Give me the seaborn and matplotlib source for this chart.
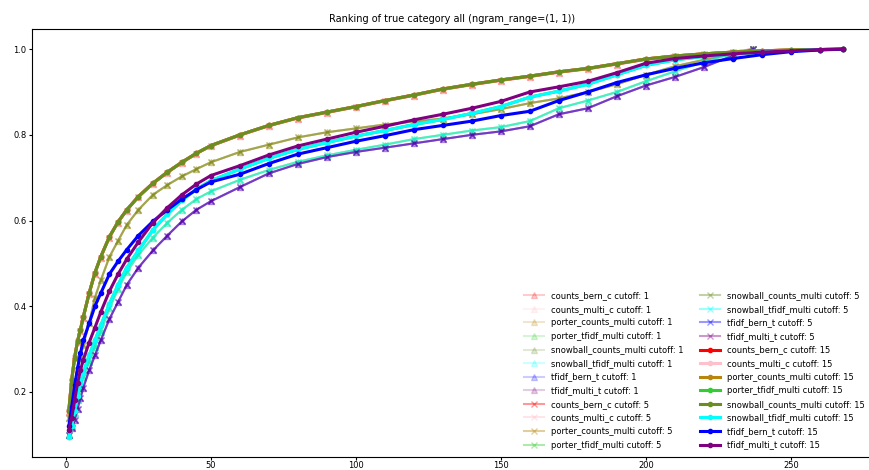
import pandas as pd
import matplotlib
matplotlib.use("Agg")
import matplotlib.pyplot as plt
import seaborn as sns

# rank positions (x) -- cutoff 15 runs go further than cutoff 1 / 5
ranks_15 = [1, 2, 3, 4, 5, 6, 8, 10, 12, 15, 18, 21, 25, 30, 35, 40, 45, 50,
            60, 70, 80, 90, 100, 110, 120, 130, 140, 150, 160, 170, 180, 190,
            200, 210, 220, 230, 240, 250, 260, 268]
ranks_low = [1, 2, 3, 4, 5, 6, 8, 10, 12, 15, 18, 21, 25, 30, 35, 40, 45, 50,
             60, 70, 80, 90, 100, 110, 120, 130, 140, 150, 160, 170, 180, 190,
             200, 210, 220, 230, 237]

# cumulative share of documents whose true category is within the rank
counts_15 = [0.156, 0.228, 0.28, 0.318, 0.345, 0.375, 0.43, 0.478, 0.515, 0.562,
             0.597, 0.625, 0.656, 0.687, 0.713, 0.736, 0.757, 0.775, 0.80, 0.822,
             0.84, 0.853, 0.866, 0.88, 0.893, 0.907, 0.918, 0.928, 0.937, 0.947,
             0.955, 0.966, 0.977, 0.984, 0.989, 0.993, 0.996, 0.998, 0.999, 1.0]
tfidf_multi_15 = [0.11, 0.14, 0.18, 0.22, 0.25, 0.275, 0.315, 0.35, 0.386, 0.435,
                  0.475, 0.51, 0.55, 0.595, 0.63, 0.66, 0.685, 0.705, 0.728, 0.753,
                  0.774, 0.79, 0.806, 0.82, 0.835, 0.848, 0.862, 0.878, 0.9, 0.912,
                  0.925, 0.945, 0.967, 0.978, 0.984, 0.989, 0.993, 0.996, 0.999, 1.0]
stem_tfidf_15 = [0.095, 0.12, 0.155, 0.19, 0.22, 0.245, 0.285, 0.32, 0.355, 0.405,
                 0.45, 0.49, 0.53, 0.578, 0.615, 0.647, 0.673, 0.693, 0.72, 0.745,
                 0.766, 0.782, 0.797, 0.81, 0.824, 0.836, 0.85, 0.866, 0.888, 0.902,
                 0.918, 0.94, 0.962, 0.975, 0.983, 0.988, 0.993, 0.996, 0.999, 1.0]
tfidf_bern_15 = [0.12, 0.165, 0.215, 0.255, 0.29, 0.32, 0.36, 0.40, 0.43, 0.475,
                 0.505, 0.532, 0.565, 0.598, 0.625, 0.65, 0.672, 0.69, 0.708, 0.733,
                 0.755, 0.77, 0.785, 0.798, 0.812, 0.822, 0.832, 0.845, 0.855, 0.88,
                 0.9, 0.922, 0.94, 0.955, 0.968, 0.978, 0.987, 0.994, 0.998, 1.0]
counts_c_low = [0.152, 0.225, 0.278, 0.316, 0.343, 0.373, 0.428, 0.476, 0.513, 0.56,
                0.595, 0.623, 0.654, 0.685, 0.711, 0.734, 0.755, 0.773, 0.798, 0.82,
                0.838, 0.851, 0.864, 0.878, 0.891, 0.905, 0.916, 0.926, 0.935, 0.945,
                0.953, 0.964, 0.975, 0.983, 0.989, 0.994, 1.0]
stem_counts_low = [0.14, 0.19, 0.212, 0.25, 0.28, 0.31, 0.36, 0.42, 0.46, 0.515,
                   0.553, 0.59, 0.625, 0.66, 0.683, 0.703, 0.72, 0.736, 0.76, 0.777,
                   0.794, 0.806, 0.815, 0.824, 0.831, 0.838, 0.848, 0.86, 0.874, 0.885,
                   0.9, 0.918, 0.94, 0.96, 0.975, 0.99, 1.0]
stem_tfidf_low = [0.1, 0.12, 0.15, 0.18, 0.21, 0.235, 0.27, 0.305, 0.34, 0.395,
                  0.44, 0.48, 0.52, 0.56, 0.595, 0.625, 0.65, 0.668, 0.695, 0.718,
                  0.737, 0.752, 0.765, 0.777, 0.79, 0.80, 0.81, 0.818, 0.832, 0.862,
                  0.88, 0.90, 0.925, 0.948, 0.97, 0.99, 1.0]
tfidf_low = [0.1, 0.115, 0.135, 0.16, 0.185, 0.21, 0.25, 0.285, 0.32, 0.37,
             0.41, 0.45, 0.49, 0.53, 0.565, 0.598, 0.625, 0.645, 0.678, 0.71,
             0.732, 0.748, 0.76, 0.77, 0.78, 0.79, 0.80, 0.808, 0.82, 0.848,
             0.862, 0.89, 0.915, 0.935, 0.958, 0.985, 1.0]

models = ["counts_bern_c", "counts_multi_c", "porter_counts_multi", "porter_tfidf_multi",
          "snowball_counts_multi", "snowball_tfidf_multi", "tfidf_bern_t", "tfidf_multi_t"]
colors = ["red", "pink", "darkgoldenrod", "limegreen",
          "olivedrab", "cyan", "blue", "purple"]
cutoffs = [1, 5, 15]

curve_low = {"counts_bern_c": counts_c_low, "counts_multi_c": counts_c_low,
             "porter_counts_multi": stem_counts_low, "porter_tfidf_multi": stem_tfidf_low,
             "snowball_counts_multi": stem_counts_low, "snowball_tfidf_multi": stem_tfidf_low,
             "tfidf_bern_t": tfidf_low, "tfidf_multi_t": tfidf_low}
curve_15 = {"counts_bern_c": counts_15, "counts_multi_c": counts_15,
            "porter_counts_multi": counts_15, "porter_tfidf_multi": stem_tfidf_15,
            "snowball_counts_multi": counts_15, "snowball_tfidf_multi": stem_tfidf_15,
            "tfidf_bern_t": tfidf_bern_15, "tfidf_multi_t": tfidf_multi_15}

style = {1: dict(marker="^", alpha=0.2, linewidth=1.5, markersize=4),
         5: dict(marker="x", alpha=0.4, linewidth=1.5, markersize=4),
         15: dict(marker=".", alpha=1.0, linewidth=2.2, markersize=6)}

fig = plt.figure(figsize=(8.69, 4.70), dpi=100)
ax = fig.add_axes([32 / 869, 13 / 470, 840 / 869, 428 / 470])

for c in cutoffs:
    for m, col in zip(models, colors):
        if c == 15:
            df = pd.DataFrame({"rank": ranks_15, "share": curve_15[m]})
        else:
            df = pd.DataFrame({"rank": ranks_low, "share": curve_low[m]})
        sns.lineplot(data=df, x="rank", y="share", ax=ax, color=col,
                     label=f"{m} cutoff: {c}", markeredgewidth=1,
                     markeredgecolor=col, markerfacecolor=col, **style[c])

ax.set_xlim(-11.7, 278)
ax.set_ylim(0.048, 1.047)
ax.set_xticks([0, 50, 100, 150, 200, 250])
ax.set_yticks([0.2, 0.4, 0.6, 0.8, 1.0])
ax.tick_params(labelsize=6, length=2.5, pad=1.5)
ax.tick_params(axis="x", pad=0.5)
ax.set_xlabel("")
ax.set_ylabel("")
ax.set_title("Ranking of true category all (ngram_range=(1, 1))", fontsize=7)
ax.legend(loc="lower right", ncol=2, fontsize=6, frameon=False,
          handlelength=2.4, labelspacing=0.55, columnspacing=2.0)

fig.savefig("out.png", dpi=100)
